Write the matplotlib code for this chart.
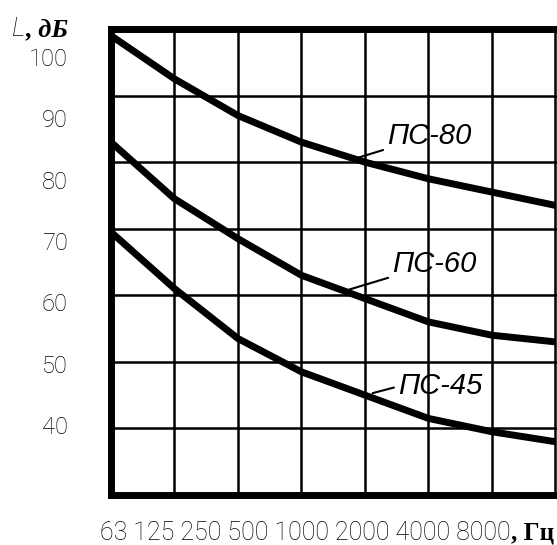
import matplotlib
matplotlib.use('Agg')
import matplotlib.pyplot as plt
import numpy as np

freq_labels = ['63', '125', '250', '500', '1000', '2000', '4000', '8000']
level_ticks = [100, 90, 80, 70, 60, 50, 40]

ps80 = [99, 92.5, 87, 83, 80, 77.5, 75.5, 73.5]
ps60 = [83, 74.5, 68.5, 63, 59.5, 56, 54, 53]
ps45 = [69.5, 61, 53.5, 48.5, 45, 41.5, 39.5, 38]
curve_names = ['ПС-80', 'ПС-60', 'ПС-45']

num_font = ['Roboto', 'DejaVu Sans']

fig = plt.figure(figsize=(5.57, 5.45), dpi=100)
ax = fig.add_axes([111 / 557, 50 / 545, 447 / 557, 466 / 545])

x = np.arange(len(freq_labels))
for vals in (ps80, ps60, ps45):
    ax.plot(x, vals, color='black', lw=5, solid_capstyle='butt',
            solid_joinstyle='round')

ax.set_xlim(0, 7.04)
ax.set_ylim(30, 100)
ax.set_xticks(x)
ax.set_yticks(np.arange(30, 101, 10))
ax.grid(True, color='black', lw=1.8)
ax.tick_params(length=0, labelbottom=False, labelleft=False)
for side in ('left', 'top', 'bottom'):
    ax.spines[side].set_linewidth(5)
ax.spines['right'].set_visible(False)

# curve captions with short leaders
label_pos = [((4.35, 81.8), (3.8, 80.4), (0, 0.05)),
             ((4.43, 62.6), (3.73, 60.8), (0, 0.05)),
             ((4.52, 44.2), (4.12, 45.3), (0, 0.5))]
for name, (txt, pt, rel) in zip(curve_names, label_pos):
    ax.annotate(name, xy=pt, xytext=txt, ha='left', va='bottom',
                fontsize=21, style='italic', family='Liberation Sans',
                arrowprops=dict(arrowstyle='-', lw=1.5, color='black',
                                relpos=rel, shrinkA=1, shrinkB=0))

# level labels sit a bit off the grid lines in the original
lab = ax.twinx()
lab.yaxis.set_ticks_position('left')
lab.set_ylim(28.55, 104.57)
lab.set_yticks(level_ticks)
lab.set_yticklabels([str(v) for v in level_ticks], family=num_font,
                    fontweight='light', fontsize=17)
lab.tick_params(axis='y', length=0, pad=31)
for s in lab.spines.values():
    s.set_visible(False)

t = fig.text(12 / 557, 1 - 36 / 545, 'L', ha='left', va='baseline',
             fontsize=19, family=num_font, fontweight='light', style='italic')
ax.annotate(', дБ', xy=(1, 0), xycoords=t, va='bottom', ha='left',
            fontsize=19, family='Liberation Serif', fontweight='bold',
            style='italic', annotation_clip=False)

tx = fig.text(100 / 557, 1 - 540 / 545, ' '.join(freq_labels), ha='left',
              va='baseline', fontsize=18, family=num_font, fontweight='light')
ax.annotate(', Гц', xy=(1, 0), xycoords=tx, va='bottom', ha='left',
            fontsize=18, family='Liberation Serif', fontweight='bold',
            annotation_clip=False)

fig.savefig('out.png', dpi=100)
